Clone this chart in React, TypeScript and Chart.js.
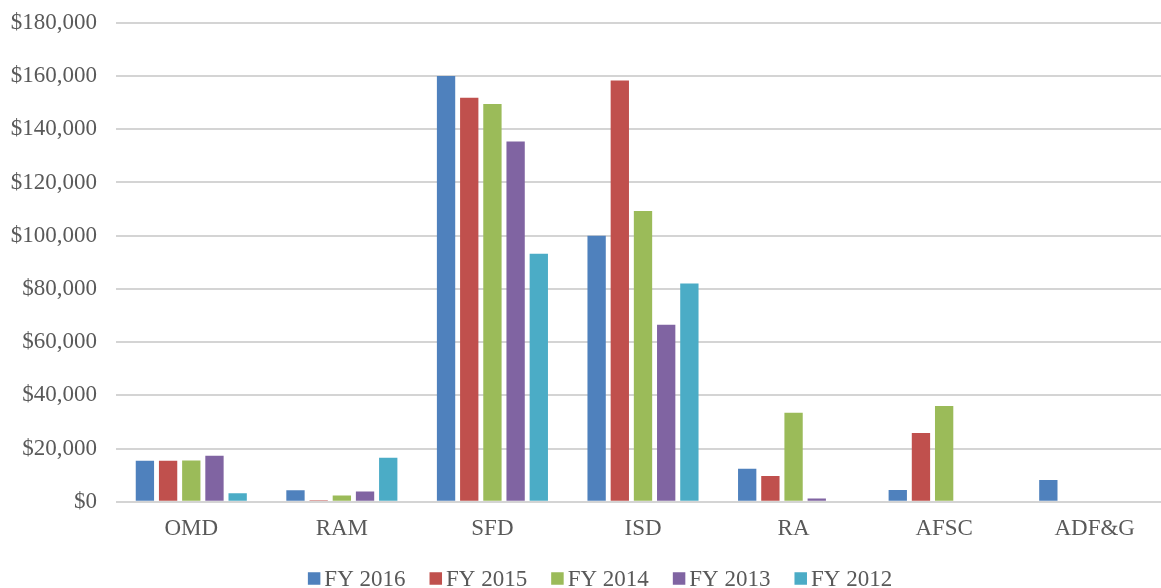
import React, { useEffect, useRef } from "react";
import { Chart, registerables } from "chart.js";

Chart.register(...registerables);

const categories = ["OMD", "RAM", "SFD", "ISD", "RA", "AFSC", "ADF&G"];
const seriesNames = ["FY 2016", "FY 2015", "FY 2014", "FY 2013", "FY 2012"];
const fy2016 = [15400, 4300, 160000, 100000, 12400, 4400, 8200];
const fy2015 = [15400, 600, 151800, 158300, 9700, 25900, 0];
const fy2014 = [15500, 2400, 149500, 109300, 33500, 36000, 0];
const fy2013 = [17300, 3900, 135400, 66500, 1200, 0, 0];
const fy2012 = [3200, 16600, 93200, 82000, 0, 0, 0];
const seriesColors = ["#4F81BD", "#C0504D", "#9BBB59", "#8064A2", "#4BACC6"];
const yTicksMax = 180000;
const yTicksStep = 20000;

const FONT = "'Liberation Serif', 'Times New Roman', serif";
const TEXT = "#595959";
const SHIFT = 10.5;

const legendPlugin = {
  id: "customLegend",
  afterDraw(chart: any) {
    const ctx = chart.ctx;
    const ds = chart.data.datasets;
    ctx.save();
    ctx.font = `23px ${FONT}`;
    ctx.textBaseline = "middle";
    ctx.textAlign = "left";
    const box = 12.5;
    const gap = 4;
    const spacing = 24;
    const widths = ds.map((d: any) => box + gap + ctx.measureText(d.label).width);
    const total = widths.reduce((a: number, b: number) => a + b, 0) + spacing * (ds.length - 1);
    let x = 600 - total / 2;
    const cy = 578 + SHIFT;
    ds.forEach((d: any, i: number) => {
      ctx.fillStyle = d.backgroundColor;
      ctx.fillRect(x, cy - box / 2, box, box);
      ctx.fillStyle = TEXT;
      ctx.fillText(d.label, x + box + gap, cy + 1);
      x += widths[i] + spacing;
    });
    ctx.restore();
  },
};

export default function App() {
  const ref = useRef<HTMLCanvasElement | null>(null);
  useEffect(() => {
    if (!ref.current) return;
    const seriesData = [fy2016, fy2015, fy2014, fy2013, fy2012];
    const chart = new Chart(ref.current, {
      type: "bar",
      data: {
        labels: categories,
        datasets: seriesNames.map((name, i) => ({
          label: name,
          data: seriesData[i],
          backgroundColor: seriesColors[i],
          borderWidth: 0,
          categoryPercentage: 0.77,
          barPercentage: 0.79,
        })),
      },
      plugins: [legendPlugin],
      options: {
        animation: false,
        responsive: true,
        maintainAspectRatio: false,
        layout: { padding: { top: 0, right: 5, left: 0, bottom: 0 } },
        plugins: {
          legend: { display: false },
          tooltip: { enabled: false },
        },
        scales: {
          x: {
            grid: { display: false, drawTicks: false },
            border: { display: false },
            ticks: {
              color: TEXT,
              font: { family: FONT, size: 23 },
              padding: 13,
              maxRotation: 0,
              autoSkip: false,
            },
            afterFit(scale: any) {
              scale.height = 86.7;
            },
          },
          y: {
            min: 0,
            max: yTicksMax,
            grid: { color: "#d4d4d4", lineWidth: 2, drawTicks: false },
            border: { display: false },
            ticks: {
              stepSize: yTicksStep,
              color: TEXT,
              font: { family: FONT, size: 23 },
              padding: 19,
              callback: (v: any) => "$" + Number(v).toLocaleString("en-US"),
            },
            afterFit(scale: any) {
              scale.width = 116;
            },
          },
        },
      },
    });
    return () => chart.destroy();
  }, []);
  return (
    <div style={{ position: "fixed", left: 0, top: 0, width: 1161, height: 588, overflow: "hidden", background: "#fff" }}>
      <div style={{ position: "absolute", left: 0, top: -SHIFT, width: 1175, height: 588 + SHIFT }}>
        <canvas ref={ref} />
      </div>
    </div>
  );
}
